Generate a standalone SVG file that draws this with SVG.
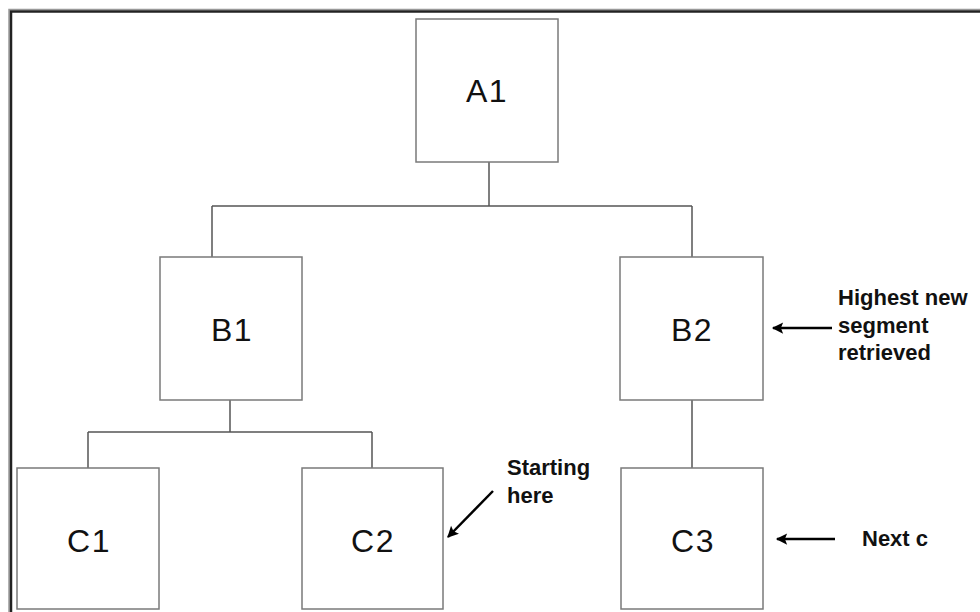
<svg xmlns="http://www.w3.org/2000/svg" width="980" height="612" viewBox="0 0 980 612">
<style>
.box{fill:#fff;stroke:#7a7a7a;stroke-width:1.5}
.lbl{font-family:"Liberation Sans",Arial,sans-serif;font-size:32px;fill:#111;text-anchor:middle;letter-spacing:1.5px}
.note{font-family:"Liberation Sans",Arial,sans-serif;font-size:22px;font-weight:bold;fill:#111}
.con{fill:none;stroke:#555;stroke-width:1.5}
.arr{fill:none;stroke:#000;stroke-width:2.5}
</style>
<defs>
<marker id="ah" viewBox="0 0 10 10" refX="9" refY="5" markerWidth="5" markerHeight="4.5" orient="auto" markerUnits="strokeWidth">
<path d="M0,0 L10,5 L0,10 L2,5 z" fill="#000"/>
</marker>
</defs>
<rect x="0" y="0" width="980" height="612" fill="#fff"/>
<rect x="9" y="9.5" width="990" height="620" fill="none" stroke="#999" stroke-width="1.5"/>
<rect x="11" y="11.5" width="990" height="620" fill="none" stroke="#222" stroke-width="2.5"/>
<g id="connectors">
<path class="con" d="M489,162 V206 M212,206 H692 M212,206 V257 M692,206 V257"/>
<path class="con" d="M230,400 V432 M88,432 H372 M88,432 V468 M372,432 V468"/>
<path class="con" d="M692,400 V468"/>
<line class="arr" x1="832" y1="328" x2="773" y2="328" marker-end="url(#ah)"/>
<line class="arr" x1="493" y1="491" x2="448" y2="537" marker-end="url(#ah)"/>
<line class="arr" x1="835" y1="539" x2="777" y2="539" marker-end="url(#ah)"/>
</g>
<g id="A1"><rect class="box" x="416" y="19" width="142" height="143"/><text class="lbl" x="487" y="102">A1</text></g>
<g id="B1"><rect class="box" x="160" y="257" width="142" height="143"/><text class="lbl" x="232" y="341">B1</text></g>
<g id="B2"><rect class="box" x="620" y="257" width="143" height="143"/><text class="lbl" x="692" y="341">B2</text></g>
<g id="C1"><rect class="box" x="17" y="468" width="142" height="141"/><text class="lbl" x="89" y="552">C1</text></g>
<g id="C2"><rect class="box" x="302" y="468" width="141" height="141"/><text class="lbl" x="373" y="552">C2</text></g>
<g id="C3"><rect class="box" x="621" y="468" width="142" height="141"/><text class="lbl" x="693" y="552">C3</text></g>
<g id="note-b2"><text class="note" x="838" y="305">Highest new</text><text class="note" x="838" y="333">segment</text><text class="note" x="838" y="360">retrieved</text></g>
<g id="note-c2"><text class="note" x="507" y="475">Starting</text><text class="note" x="507" y="503">here</text></g>
<g id="note-c3"><text class="note" x="862" y="546">Next c</text></g>
</svg>
